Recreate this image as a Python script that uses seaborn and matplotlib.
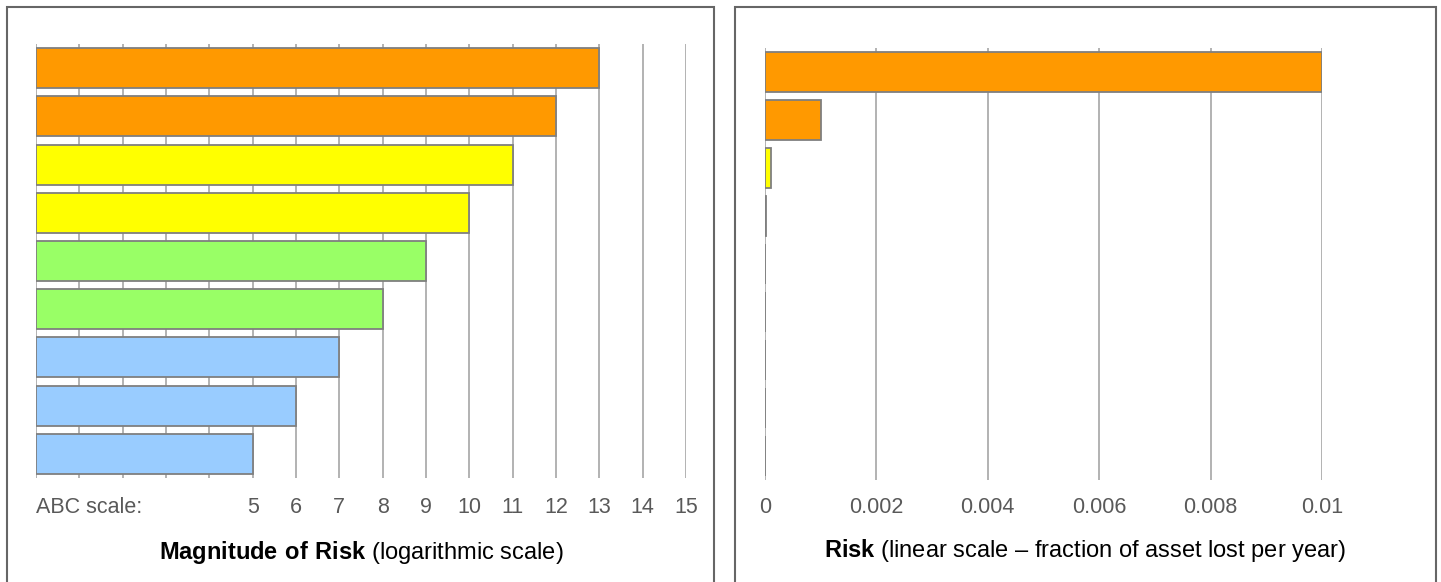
import matplotlib
matplotlib.use("Agg")
import matplotlib.pyplot as plt
from matplotlib.patches import Rectangle
import seaborn as sns

# ABC magnitude of each risk row (top to bottom) and the matching annual loss fraction
magnitudes = [13, 12, 11, 10, 9, 8, 7, 6, 5]
risk_fraction = [1e-2, 1e-3, 1e-4, 1e-5, 1e-6, 1e-7, 1e-8, 1e-9, 1e-10]
bar_colors = ["#FF9900", "#FF9900", "#FFFF00", "#FFFF00",
              "#99FF66", "#99FF66", "#99CCFF", "#99CCFF", "#99CCFF"]
row_names = [f"ABC {m}" for m in magnitudes]

abc_ticks = list(range(0, 16))
abc_labels = ["ABC scale:"] + [""] * 4 + [str(t) for t in range(5, 16)]
risk_ticks = [0, 0.002, 0.004, 0.006, 0.008, 0.01]
risk_labels = ["0", "0.002", "0.004", "0.006", "0.008", "0.01"]

sns.set_style("white")
plt.rcParams["font.family"] = ["Liberation Sans", "DejaVu Sans"]
plt.rcParams["mathtext.fontset"] = "custom"
plt.rcParams["mathtext.rm"] = "Liberation Sans"
plt.rcParams["mathtext.bf"] = "Liberation Sans:bold"

W, H = 1441, 582
fig = plt.figure(figsize=(W / 100, H / 100), dpi=100)

palette = dict(zip(row_names, bar_colors))
grid_col = "#a6a6a6"
tick_col = "#595959"
edge_col = "#7f7f7f"


def px_axes(x0, x1, y0, y1):
    # axes placed by pixel box (top-left origin)
    return fig.add_axes([x0 / W, 1 - y1 / H, (x1 - x0) / W, (y1 - y0) / H])


def style_axes(ax):
    for s in ax.spines.values():
        s.set_visible(False)
    ax.set_yticks([])
    ax.set_ylabel("")
    ax.set_ylim(8.5, -0.5)
    ax.set_axisbelow(True)
    ax.grid(axis="x", color=grid_col, linewidth=1.2)
    ax.tick_params(axis="x", length=0, pad=14, labelsize=15.5, labelcolor=tick_col)


# left panel: magnitude on the ABC scale
ax1 = px_axes(36, 686, 44, 478)
sns.barplot(x=magnitudes, y=row_names, hue=row_names, palette=palette,
            orient="h", width=0.83, saturation=1, edgecolor=edge_col,
            linewidth=1.3, legend=False, ax=ax1)
ax1.set_xlim(0, 15)
ax1.set_xticks(abc_ticks)
ax1.set_xticklabels(abc_labels)
style_axes(ax1)
ax1.get_xticklabels()[0].set_horizontalalignment("left")
ax1.set_xlabel(r"$\bf{Magnitude\ of\ Risk}$ (logarithmic scale)",
               fontsize=17, labelpad=15, color="black")

# right panel: the same risks on a linear scale
ax2 = px_axes(765, 1322, 48, 480)
sns.barplot(x=risk_fraction, y=row_names, hue=row_names, palette=palette,
            orient="h", width=0.83, saturation=1, edgecolor=edge_col,
            linewidth=1.3, legend=False, ax=ax2)
ax2.set_xlim(0, 0.01)
ax2.set_xticks(risk_ticks)
ax2.set_xticklabels(risk_labels)
style_axes(ax2)
ax2.tick_params(axis="x", pad=12)
ax2.set_xlabel(r"$\bf{Risk}$ (linear scale – fraction of asset lost per year)",
               fontsize=17, labelpad=14, color="black")
ax2.xaxis.label.set_x((1085 - 765) / (1322 - 765))

# panel frames
for x0, x1 in [(7, 714), (735, 1436)]:
    fig.add_artist(Rectangle((x0 / W, -0.05), (x1 - x0) / W, 1.05 - 7 / H,
                             transform=fig.transFigure, fill=False,
                             edgecolor="#666666", linewidth=1.5))

fig.savefig("out.png", dpi=100)
